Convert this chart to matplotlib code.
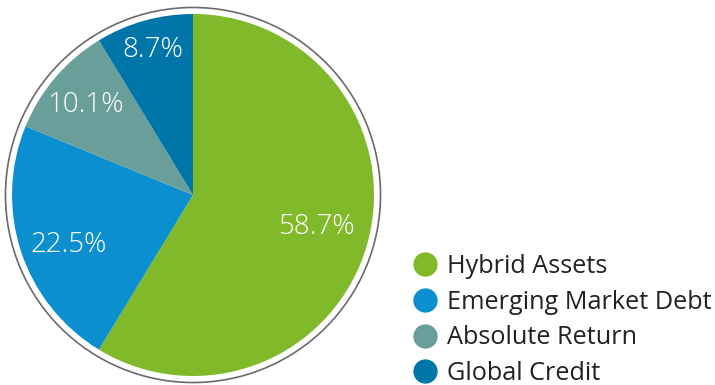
import matplotlib.pyplot as plt
from matplotlib.lines import Line2D
from matplotlib.patches import Circle

plt.rcParams["font.family"] = ["Open Sans", "DejaVu Sans"]

# Data
labels = ["Hybrid Assets", "Emerging Market Debt", "Absolute Return", "Global Credit"]
values = [58.7, 22.5, 10.1, 8.7]
colors = ["#80b929", "#0b8fcf", "#6a9e9b", "#0076a8"]

W, H = 715, 385
fig = plt.figure(figsize=(W / 100, H / 100), dpi=100)

# pie axes: center (193, 195) px, radius 181 px
cx, cy, r = 193, 195, 181
ax = fig.add_axes([(cx - r) / W, (H - cy - r) / H, 2 * r / W, 2 * r / H])

wedges, texts, autotexts = ax.pie(
    values,
    colors=colors,
    startangle=90,
    counterclock=False,
    radius=1,
    autopct="%.1f%%",
    pctdistance=0.7,
    textprops={"color": "white", "fontsize": 20, "fontweight": "light"},
    wedgeprops={"linewidth": 0},
)

# hand-placed label spots, as in the original
label_pos = [(0.682, -0.175), (-0.688, -0.275), (-0.591, 0.495), (-0.221, 0.80)]
for t, p in zip(autotexts, label_pos):
    t.set_position(p)

# outer ring
ring = Circle((0, 0), 1.036, fill=False, edgecolor="#6b6b6b", linewidth=1.2, clip_on=False)
ax.add_patch(ring)
ax.set_xlim(-1, 1)
ax.set_ylim(-1, 1)
ax.set_aspect("equal")
ax.axis("off")

# legend
handles = [
    Line2D([], [], marker="o", linestyle="", markersize=16.5, markerfacecolor=c, markeredgecolor=c)
    for c in colors
]
fig.legend(
    handles,
    labels,
    loc="upper left",
    bbox_to_anchor=(401 / W, 1 - 241 / H),
    frameon=False,
    fontsize=18.2,
    labelspacing=0.43,
    handlelength=0.9,
    handletextpad=0.42,
    borderpad=0,
    labelcolor="#222222",
)

fig.savefig("out.png", dpi=100)
